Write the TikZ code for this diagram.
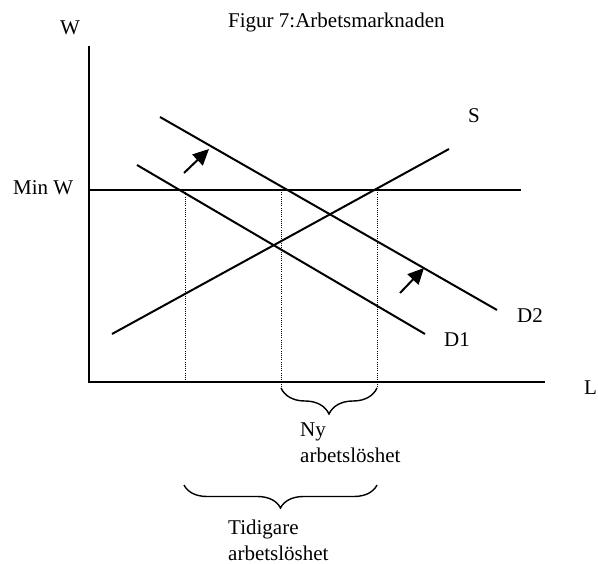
\documentclass[tikz,border=0pt]{standalone}
\usepackage{fontspec}
\setmainfont{Liberation Serif}
\usetikzlibrary{arrows.meta,decorations.pathreplacing}

\begin{document}
\begin{tikzpicture}[x=1pt, y=-1pt,
    curve/.style={line width=2pt},
    guide/.style={line width=1pt, dash pattern=on 1pt off 1.2pt},
    movearrow/.style={line width=2pt, -{Triangle[length=16pt, width=15pt]}},
    curly/.style={line width=1.4pt, decorate, decoration={brace, mirror, amplitude=#1}},
    lbl/.style={inner sep=0pt, anchor=base west},
    font=\fontsize{21}{26}\selectfont]
    \useasboundingbox (0,0) rectangle (598,564);

    % Axes
    \draw[curve] (89,46) -- (89,382) -- (545,382);
    \node[lbl] (wlab) at (60,35) {W};
    \node[lbl] (llab) at (584,395) {L};
    \node[lbl] (title) at (228,28) {Figur 7:Arbetsmarknaden};

    % Minimum wage
    \draw[curve] (89,190) -- (521,190);
    \node[lbl] (minw) at (13,195) {Min W};

    % Supply and demand curves
    \draw[curve] (112,334) -- (449,149);
    \draw[curve] (137,165) -- (425,334);
    \draw[curve] (160,117) -- (497,310);
    \node[lbl] (slab) at (468,123) {S};
    \node[lbl] (d1lab) at (444,347) {D1};
    \node[lbl] (d2lab) at (517,323) {D2};

    % Shift of demand
    \draw[movearrow] (184,173) -- (209,149);
    \draw[movearrow] (400,293) -- (424,268);

    % Quantities at the minimum wage
    \draw[guide] (185,190) -- (185,382);
    \draw[guide] (281,190) -- (281,388);
    \draw[guide] (377,190) -- (377,388);

    % Unemployment
    \draw[curly=26pt] (281,388) -- (377,388);
    \node[lbl, anchor=north west, align=left] (ny) at (300,423) {Ny\\arbetslöshet};
    \draw[curly=23pt] (184,485) -- (377,485);
    \node[lbl, anchor=north west, align=left] (tidig) at (228,520) {Tidigare\\arbetslöshet};
\end{tikzpicture}
\end{document}
